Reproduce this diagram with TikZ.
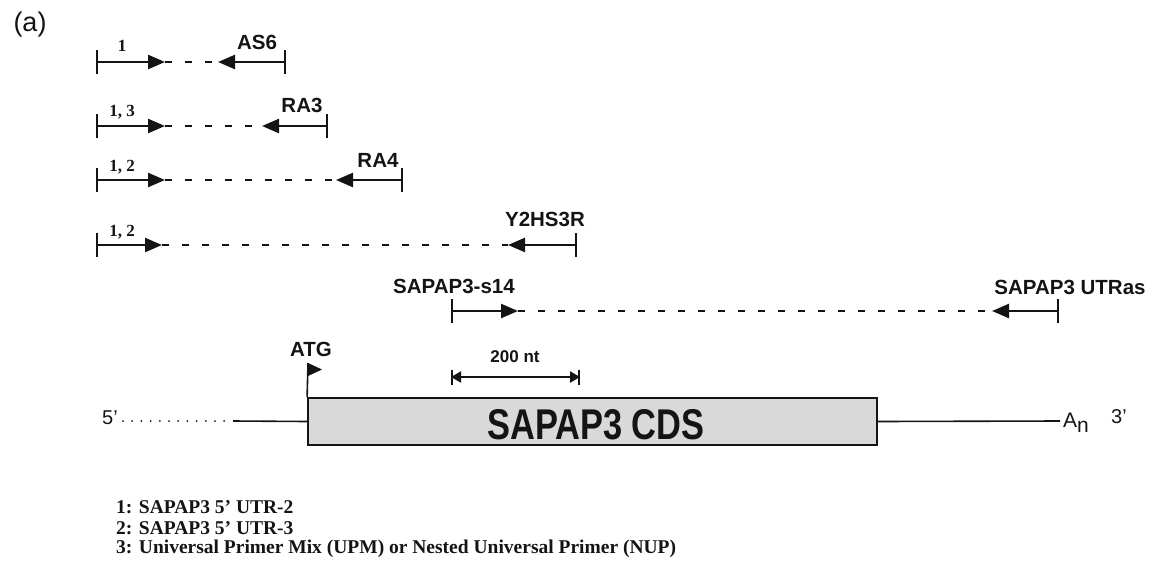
\documentclass[tikz,border=0pt]{standalone}
\usepackage{fontspec}
\setmainfont{Liberation Serif}
\setsansfont{Liberation Sans}
\usetikzlibrary{arrows.meta}
\definecolor{boxfill}{HTML}{D9D9D9}
\definecolor{ink}{HTML}{141414}
\begin{document}
\begin{tikzpicture}[x=1pt,y=-1pt,
  prim/.style={line width=2.4pt, ink, {Bar[width=24pt]}-{Triangle[length=17pt,width=14pt]}},
  gapline/.style={line width=2.4pt, ink, dash pattern=on 7pt off 13pt},
  lab/.style={font=\sffamily\bfseries\fontsize{20.5}{22}\selectfont, inner sep=0pt, text=ink},
  num/.style={font=\rmfamily\bfseries\fontsize{17}{18}\selectfont, inner sep=0pt, text=ink},
  leg/.style={font=\rmfamily\bfseries\fontsize{19.5}{21}\selectfont, inner sep=0pt, anchor=west, text=ink},
  plain/.style={font=\sffamily\fontsize{20}{22}\selectfont, inner sep=0pt, text=ink},
  mrna/.style={line width=1.6pt, ink},
  sbar/.style={line width=2pt, ink}]
\useasboundingbox (0,0) rectangle (1151,568);

\node[plain, font=\sffamily\fontsize{27}{29}\selectfont] (panel) at (30,25) {(a)};

% Row 1
\coordinate (a1) at (96,62);  \coordinate (a2) at (165,62);
\coordinate (a3) at (218,62); \coordinate (a4) at (286,62);
\draw[prim] (a1) -- (a2);
\draw[gapline] (a2) -- (a3);
\draw[prim] (a4) -- (a3);
\node[num] (n1) at (122,46) {1};
\node[lab] (l1) at (257,42) {AS6};

% Row 2
\coordinate (b1) at (96,126);  \coordinate (b2) at (165,126);
\coordinate (b3) at (262,126); \coordinate (b4) at (328,126);
\draw[prim] (b1) -- (b2);
\draw[gapline] (b2) -- (b3);
\draw[prim] (b4) -- (b3);
\node[num] (n2) at (122,112) {1, 3};
\node[lab] (l2) at (302,105) {RA3};

% Row 3
\coordinate (c1) at (96,180);  \coordinate (c2) at (165,180);
\coordinate (c3) at (336,180); \coordinate (c4) at (403,180);
\draw[prim] (c1) -- (c2);
\draw[gapline] (c2) -- (c3);
\draw[prim] (c4) -- (c3);
\node[num] (n3) at (122,167) {1, 2};
\node[lab] (l3) at (378,160) {RA4};

% Row 4
\coordinate (d1) at (96,245);  \coordinate (d2) at (162,245);
\coordinate (d3) at (508,245); \coordinate (d4) at (577,245);
\draw[prim] (d1) -- (d2);
\draw[gapline] (d2) -- (d3);
\draw[prim] (d4) -- (d3);
\node[num] (n4) at (122,232) {1, 2};
\node[lab] (l4) at (545,219) {Y2HS3R};

% Row 5
\coordinate (e1) at (451,311);  \coordinate (e2) at (518,311);
\coordinate (e3) at (992,311);  \coordinate (e4) at (1059,311);
\draw[prim] (e1) -- (e2);
\draw[gapline] (e2) -- (e3);
\draw[prim] (e4) -- (e3);
\node[lab] (l5) at (454,286) {SAPAP3-s14};
\node[lab] (l6) at (1070,287) {SAPAP3 UTRas};

% scale bar
\coordinate (s1) at (451,377); \coordinate (s2) at (580,377);
\draw[sbar, {Triangle[length=10pt,width=11pt]}-{Triangle[length=10pt,width=11pt]}] (s1) -- (s2);
\draw[sbar, {Bar[width=15pt]}-{Bar[width=15pt]}] (s1) -- (s2);
\node[lab, font=\sffamily\bfseries\fontsize{17}{18}\selectfont] (sl) at (515,357) {200 nt};

% mRNA
\node[draw=ink, line width=1.8pt, fill=boxfill, minimum width=569pt, minimum height=47pt, inner sep=0pt] (cds) at (592.5,421.5) {};
\node[font=\sffamily\bfseries\fontsize{43}{45}\selectfont, inner sep=0pt, text=ink] (cdsl) at (596,425) {\scalebox{0.8}[1]{SAPAP3 CDS}};
\coordinate (m0) at (123,421); \coordinate (m1) at (233,421);
\coordinate (m3) at (1060,421);
\draw[mrna, line cap=round, dash pattern=on 0pt off 9.2pt, line width=2pt] (m0) -- (m1);
\draw[mrna] (m1) -- (cds.west);
\draw[mrna] (cds.east) -- (m3);
\node[plain] (five) at (110,418) {5’};
\node[plain, anchor=west, font=\sffamily\fontsize{21}{22}\selectfont] (an) at (1063,423) {A\raisebox{-5pt}{n}};
\node[plain] (three) at (1119,417) {3’};

% ATG flag
\coordinate (f0) at (308,363);
\coordinate (f1) at (322,369.5);
\coordinate (f2) at (308,376);
\draw[mrna] (cds.north west) -- (f0);
\fill[ink] (f0) -- (f1) -- (f2) -- cycle;
\node[lab] (atg) at (311,349) {ATG};

% legend
\node[leg] (g1) at (116,507) {1: SAPAP3 5’ UTR-2};
\node[leg] (g2) at (116,528) {2: SAPAP3 5’ UTR-3};
\node[leg] (g3) at (116,549) {3: Universal Primer Mix (UPM) or Nested Universal Primer (NUP)};
\end{tikzpicture}
\end{document}
